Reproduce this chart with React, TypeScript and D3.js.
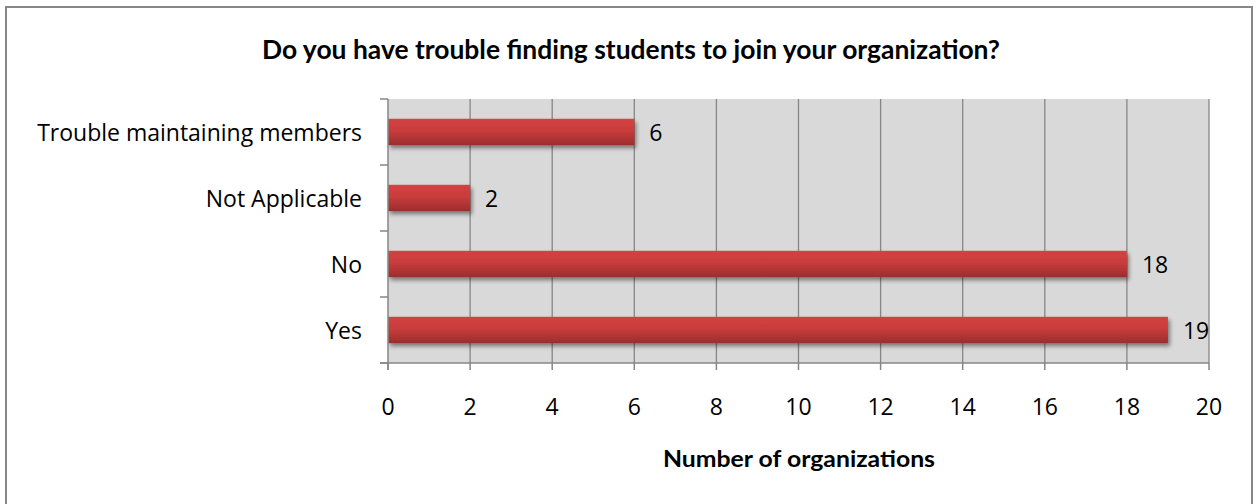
import React from "react";
import * as d3 from "d3";

const categories = ["Yes", "No", "Not Applicable", "Trouble maintaining members"];
const values = [19, 18, 2, 6];
const xTicks = [0, 2, 4, 6, 8, 10, 12, 14, 16, 18, 20];
const title = "Do you have trouble finding students to join your organization?";
const xTitle = "Number of organizations";

const W = 1258;
const H = 504;
const plot = { left: 388, right: 1209, top: 99, bottom: 363 };
const FONT = "'Open Sans', Lato, sans-serif";
const TFONT = "Lato, 'Open Sans', sans-serif";
const AX = "#868686";
const FS = 23;

export default function App() {
  const x = d3.scaleLinear().domain([0, 20]).range([plot.left, plot.right]);
  const y = d3
    .scaleBand<string>()
    .domain([...categories].reverse())
    .range([plot.top, plot.bottom])
    .paddingInner(0.6)
    .paddingOuter(0.3);
  const step = y.step();
  const bw = y.bandwidth();

  return (
    <svg
      width={W}
      height={H}
      style={{ position: "absolute", left: 0, top: 0, display: "block" }}
    >
      <defs>
        <linearGradient id="barGrad" x1="0" y1="0" x2="0" y2="1">
          <stop offset="0%" stopColor="#d44242" />
          <stop offset="45%" stopColor="#c83c3c" />
          <stop offset="100%" stopColor="#9c2d2d" />
        </linearGradient>
        <filter id="shadow" x="-5%" y="-30%" width="115%" height="180%">
          <feGaussianBlur in="SourceAlpha" stdDeviation="2" />
          <feOffset dx="2" dy="3" result="off" />
          <feComponentTransfer>
            <feFuncA type="linear" slope="0.45" />
          </feComponentTransfer>
          <feMerge>
            <feMergeNode />
            <feMergeNode in="SourceGraphic" />
          </feMerge>
        </filter>
      </defs>
      <rect x={0} y={0} width={W} height={H} fill="#ffffff" />
      <rect
        x={6}
        y={7}
        width={1246}
        height={510}
        fill="#ffffff"
        stroke="#878787"
        strokeWidth={2}
      />
      <text
        x={631}
        y={59}
        textAnchor="middle"
        fontFamily={TFONT}
        fontWeight="bold"
        fontSize={26}
        textLength={738}
        lengthAdjust="spacingAndGlyphs"
        fill="#000"
      >
        {title}
      </text>
      <rect
        x={plot.left}
        y={plot.top}
        width={plot.right - plot.left}
        height={plot.bottom - plot.top}
        fill="#d9d9d9"
      />
      {xTicks.slice(1).map((t) => (
        <line
          key={"g" + t}
          x1={x(t)}
          x2={x(t)}
          y1={plot.top}
          y2={plot.bottom}
          stroke={AX}
          strokeWidth={1.3}
        />
      ))}
      {categories.map((c, i) => (
        <g key={c}>
          <rect
            x={x(0)}
            y={y(c)!}
            width={x(values[i]) - x(0)}
            height={bw}
            fill="url(#barGrad)"
            filter="url(#shadow)"
          />
          <text
            x={x(values[i]) + 15}
            y={y(c)! + bw / 2 + 8.5}
            fontFamily={FONT}
            fontSize={FS}
            fill="#000"
          >
            {values[i]}
          </text>
        </g>
      ))}
      <line x1={plot.left} x2={plot.left} y1={plot.top} y2={plot.bottom + 7} stroke={AX} strokeWidth={1.5} />
      <line x1={plot.left - 8} x2={plot.right} y1={plot.bottom} y2={plot.bottom} stroke={AX} strokeWidth={1.5} />
      {d3.range(categories.length + 1).map((k) => (
        <line
          key={"yt" + k}
          x1={plot.left - 8}
          x2={plot.left}
          y1={plot.top + k * step}
          y2={plot.top + k * step}
          stroke={AX}
          strokeWidth={1.5}
        />
      ))}
      {xTicks.map((t) => (
        <g key={"xt" + t}>
          <line x1={x(t)} x2={x(t)} y1={plot.bottom} y2={plot.bottom + 7} stroke={AX} strokeWidth={1.5} />
          <text
            x={x(t)}
            y={415}
            textAnchor="middle"
            fontFamily={FONT}
            fontSize={FS}
            fill="#000"
          >
            {t}
          </text>
        </g>
      ))}
      {categories.map((c) => (
        <text
          key={"yl" + c}
          x={362}
          y={y(c)! + bw / 2 + 8.5}
          textAnchor="end"
          fontFamily={FONT}
          fontSize={FS}
          fill="#000"
        >
          {c}
        </text>
      ))}
      <text
        x={799}
        y={467}
        textAnchor="middle"
        fontFamily={TFONT}
        fontWeight="bold"
        fontSize={22}
        textLength={272}
        lengthAdjust="spacingAndGlyphs"
        fill="#000"
      >
        {xTitle}
      </text>
    </svg>
  );
}
